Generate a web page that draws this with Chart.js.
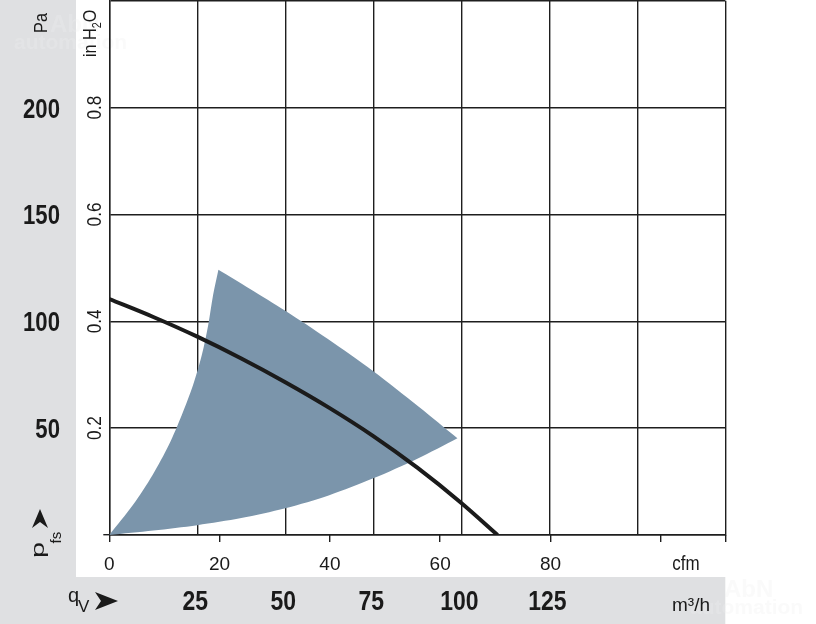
<!DOCTYPE html>
<html>
<head>
<meta charset="utf-8">
<script src="https://cdn.jsdelivr.net/npm/chart.js@4.4.1/dist/chart.umd.min.js"></script>
<style>
  html, body { margin: 0; padding: 0; background: #fff; }
  #wrap { width: 816px; height: 624px; }
</style>
</head>
<body>
<div id="wrap"><canvas id="fanChart" width="816" height="624"></canvas></div>
<script>
// fan curve (m3/h -> Pa)
const curveFlow = [0, 12.5, 25, 37.5, 50, 62.5, 75, 87.5, 100, 110.3];
const curvePa = [110.4, 102, 92.8, 82.6, 71.5, 59.5, 46.3, 31.5, 15, 0];

// operating range, walked round: left edge up to the peak, top edge down to the tip,
// bottom edge back to 0. peak and tip are listed twice so they stay sharp
const areaFlow = [0, 6.7, 12.3, 16.9, 20.6, 23.8, 26.3, 28.1, 29.5, 31, 31,
  40, 50, 62, 75, 88, 98.9, 98.9,
  87.5, 75, 62.5, 50, 37.5, 25, 12.5, 0];
const areaPa = [0, 14, 28.1, 42.1, 56.2, 70.2, 84.3, 98.3, 112.4, 124.1, 124.1,
  115.1, 104.9, 91.8, 76.6, 59.9, 45.3, 45.3,
  35.7, 26.5, 18.6, 12.5, 7.9, 4.6, 2.1, 0];

const paTicks = [50, 100, 150, 200];
const inH2OTicks = ["0.2", "0.4", "0.6", "0.8"];
const m3hTicks = [25, 50, 75, 100, 125];
const cfmTicks = [0, 20, 40, 60, 80];

const dark = "#1e1e1e";
const bandGray = "#dfe0e2";
const sans = '"Liberation Sans", Arial, sans-serif';

function txt(ctx, s, x, y, font, align, sx) {
  ctx.save();
  ctx.translate(x, y);
  ctx.scale(sx || 1, 1);
  ctx.font = font;
  ctx.textAlign = align;
  ctx.textBaseline = "alphabetic";
  ctx.fillText(s, 0, 0);
  ctx.restore();
}

// text turned 90deg counter-clockwise; x = baseline, y = anchor along the text
function rotTxt(ctx, s, x, y, font, align, along) {
  ctx.save();
  ctx.translate(x, y);
  ctx.rotate(-Math.PI / 2);
  ctx.scale(along || 1, 1);
  ctx.font = font;
  ctx.textAlign = align;
  ctx.textBaseline = "alphabetic";
  ctx.fillText(s, 0, 0);
  ctx.restore();
}

const fanLabels = {
  id: "fanLabels",
  beforeDraw(chart) {
    const ctx = chart.ctx;
    ctx.save();
    ctx.fillStyle = "#fff";
    ctx.fillRect(0, 0, chart.width, chart.height);
    ctx.fillStyle = bandGray;
    ctx.fillRect(0, 0, 76, chart.height);
    ctx.fillRect(0, 577, chart.chartArea.right, chart.height - 577);

    // faint watermark
    ctx.fillStyle = "rgba(238,238,238,0.3)";
    txt(ctx, "AbN", 50, 32, "bold 24px " + sans, "left", 1);
    txt(ctx, "automation", 14, 49, "bold 21px " + sans, "left", 1);
    txt(ctx, "AbN", 724, 597, "bold 24px " + sans, "left", 1);
    txt(ctx, "automation", 690, 614, "bold 21px " + sans, "left", 1);
    ctx.restore();
  },
  afterDraw(chart) {
    const ctx = chart.ctx;
    const {x, y, x2, y2} = chart.scales;
    ctx.save();
    ctx.fillStyle = "#1a1a1a";

    // Pa
    paTicks.forEach(v => {
      txt(ctx, String(v), 60, y.getPixelForValue(v) + 10, "bold 27px " + sans, "right", 0.82);
    });
    rotTxt(ctx, "Pa", 47, 23, "18px " + sans, "center", 0.9);

    // in H2O
    inH2OTicks.forEach(v => {
      rotTxt(ctx, v, 101, y2.getPixelForValue(parseFloat(v)), "21px " + sans, "center", 0.82);
    });
    ctx.save();
    ctx.translate(96, 57);
    ctx.rotate(-Math.PI / 2);
    ctx.scale(0.9, 1);
    ctx.font = "18px " + sans;
    ctx.textBaseline = "alphabetic";
    ctx.textAlign = "left";
    let w = ctx.measureText("in H").width;
    ctx.fillText("in H", 0, 0);
    ctx.font = "12px " + sans;
    ctx.fillText("2", w, 5);
    w += ctx.measureText("2").width;
    ctx.font = "18px " + sans;
    ctx.fillText("O", w, 0);
    ctx.restore();

    // cfm
    cfmTicks.forEach(v => {
      txt(ctx, String(v), x2.getPixelForValue(v), 570, "19px " + sans, "center", 1);
    });
    txt(ctx, "cfm", 686, 570, "20px " + sans, "center", 0.85);

    // m3/h
    m3hTicks.forEach(v => {
      txt(ctx, String(v), x.getPixelForValue(v) - 2, 610, "bold 28px " + sans, "center", 0.82);
    });
    txt(ctx, "m³/h", 691, 611, "19px " + sans, "center", 1);

    // p_fs with arrow
    ctx.beginPath();
    ctx.moveTo(40, 509);
    ctx.lineTo(48, 528);
    ctx.lineTo(40, 522);
    ctx.lineTo(32, 528);
    ctx.closePath();
    ctx.fill();
    rotTxt(ctx, "p", 44, 558, "18px " + sans, "left", 1.6);
    rotTxt(ctx, "fs", 61, 543.5, "15px " + sans, "left", 1);

    // q_V with arrow
    txt(ctx, "q", 68, 602, "20px " + sans, "left", 1);
    txt(ctx, "V", 78, 612, "17px " + sans, "left", 1);
    ctx.beginPath();
    ctx.moveTo(118, 601);
    ctx.lineTo(95, 592);
    ctx.lineTo(101, 601);
    ctx.lineTo(95, 610);
    ctx.closePath();
    ctx.fill();
    ctx.restore();
  }
};

const ctx = document.getElementById("fanChart");
new Chart(ctx, {
  type: "line",
  data: {
    datasets: [
      {
        label: "curve",
        data: curveFlow.map((f, i) => ({x: f, y: curvePa[i]})),
        borderColor: "#1b1b1b",
        borderWidth: 4,
        pointRadius: 0,
        cubicInterpolationMode: "monotone",
        fill: false,
        order: 1
      },
      {
        label: "range",
        data: areaFlow.map((f, i) => ({x: f, y: areaPa[i]})),
        borderColor: "rgba(0,0,0,0)",
        borderWidth: 0,
        backgroundColor: "#7b95ab",
        pointRadius: 0,
        tension: 0.3,
        fill: "shape",
        order: 2
      }
    ]
  },
  options: {
    responsive: false,
    animation: false,
    events: [],
    layout: {padding: {left: 103.3, right: 90.7, top: 0.7, bottom: 82}},
    plugins: {legend: {display: false}, tooltip: {enabled: false}},
    scales: {
      x: {
        type: "linear", position: "bottom", min: 0, max: 175, z: 1,
        ticks: {display: false, stepSize: 25},
        grid: {color: dark, lineWidth: 1.4, drawTicks: false},
        border: {color: dark, width: 1.4}
      },
      x2: {
        type: "linear", position: "bottom", min: 0, max: 111.7,
        ticks: {display: false, stepSize: 20},
        grid: {drawOnChartArea: false, drawTicks: true, tickLength: 7, color: dark, lineWidth: 1.4},
        border: {display: false}
      },
      y: {
        type: "linear", position: "left", min: 0, max: 250, z: 1,
        ticks: {display: false, stepSize: 50},
        grid: {
          color: dark, lineWidth: 1.4, drawTicks: true, tickLength: 6,
          tickColor: c => (c.tick && c.tick.value === 0 ? dark : "rgba(0,0,0,0)")
        },
        border: {color: dark, width: 1.4}
      },
      y2: {type: "linear", position: "left", min: 0, max: 1.0, display: false}
    }
  },
  plugins: [fanLabels]
});
</script>
</body>
</html>
